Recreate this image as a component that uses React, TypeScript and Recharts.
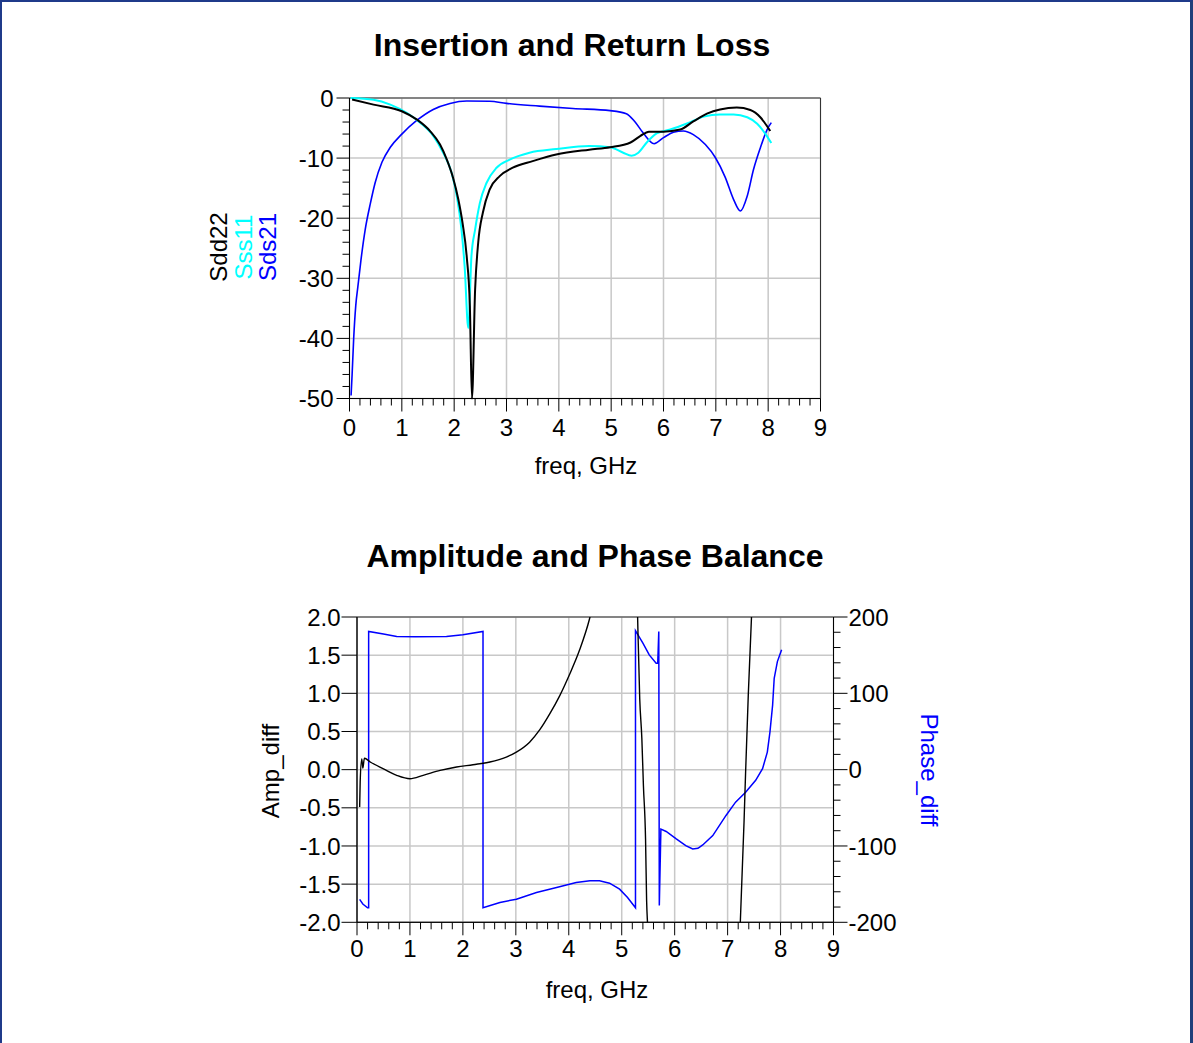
import React from "react";
import { LineChart, Line, XAxis, YAxis, CartesianGrid, ReferenceArea } from "recharts";

const FONT = '"Liberation Sans", Arial, Helvetica, sans-serif';

// Insertion / return loss, [freq GHz, dB]
const sdd22: [number, number][] = [
    [0.05, -0.25], [0.46, -1.1], [1.0, -2.2], [1.29, -3.6], [1.54, -5.5], [1.73, -7.75],
    [1.86, -10.25], [1.98, -13.3], [2.08, -16.9], [2.16, -20.8], [2.24, -26.4], [2.3, -34.6],
    [2.34, -50], [2.4, -31.9], [2.46, -24], [2.55, -19], [2.68, -15.2], [2.87, -13],
    [3.12, -11.6], [3.5, -10.5], [3.95, -9.4], [4.58, -8.6], [4.98, -8.2], [5.37, -7.4],
    [5.56, -6.3], [5.72, -5.6], [6.0, -5.6], [6.32, -5.25], [6.57, -3.9], [6.83, -2.6],
    [7.08, -1.9], [7.4, -1.6], [7.66, -2.0], [7.85, -3.2], [7.98, -4.7], [8.04, -5.5],
]

const sss11: [number, number][] = [
    [0.02, 0], [0.46, -0.3], [0.78, -1.1], [1.1, -2.5], [1.35, -4.1], [1.6, -6.3],
    [1.79, -9.1], [1.95, -12.4], [2.05, -16.3], [2.14, -21.9], [2.2, -28], [2.27, -38.3],
    [2.33, -26.3], [2.4, -21.9], [2.49, -17.5], [2.62, -14.1], [2.81, -11.6], [3.06, -10.25],
    [3.44, -9.1], [3.95, -8.5], [4.58, -8.0], [4.98, -8.2], [5.23, -9.1], [5.39, -9.6],
    [5.52, -9.1], [5.68, -7.4], [5.87, -5.9], [6.13, -5.25], [6.45, -4.25], [6.77, -3.1],
    [7.08, -2.75], [7.34, -2.75], [7.6, -3.2], [7.79, -4.3], [7.95, -6.0], [8.06, -7.5],
]

const sds21: [number, number][] = [
    [0.03, -49.5], [0.05, -46], [0.08, -40], [0.12, -34.5], [0.16, -31.4], [0.22, -26.9],
    [0.3, -21.9], [0.4, -17.5], [0.49, -14.1], [0.62, -10.7], [0.78, -8.2], [0.99, -6.1],
    [1.29, -3.7], [1.6, -1.9], [1.92, -0.9], [2.24, -0.5], [2.68, -0.55], [3.0, -0.9],
    [3.63, -1.35], [4.27, -1.75], [4.98, -2.1], [5.29, -2.6], [5.45, -3.9], [5.61, -5.8],
    [5.82, -7.6], [6.0, -6.6], [6.19, -5.7], [6.38, -5.5], [6.57, -6.1], [6.8, -7.75],
    [6.99, -9.9], [7.18, -13.2], [7.34, -16.9], [7.47, -18.8], [7.6, -16.3], [7.72, -11.9],
    [7.85, -8.3], [7.98, -5.25], [8.06, -4.1],
]

// Amplitude / phase balance, [freq GHz, value]
const ampDiff: [number, number][] = [
    [0.05, -0.49], [0.06, -0.16], [0.09, 0.14], [0.11, 0.02], [0.14, 0.15], [0.25, 0.1],
    [0.5, 0.01], [0.75, -0.075], [1.0, -0.12], [1.25, -0.075], [1.57, -0.01], [1.88, 0.035],
    [2.19, 0.065], [2.51, 0.1], [2.82, 0.165], [3.01, 0.23], [3.26, 0.36], [3.45, 0.52],
    [3.64, 0.73], [3.83, 0.97], [4.01, 1.24], [4.2, 1.56], [4.39, 1.97], [4.5, 2.3],
    [4.8, 3.2], [5.1, 3.4], [5.28, 2.6], [5.3, 2.0], [5.34, 0.93], [5.38, 0.41],
    [5.41, -0.21], [5.45, -0.91], [5.47, -1.71], [5.49, -2.05], [5.55, -3], [6.3, -4],
    [7.15, -3], [7.24, -2.0], [7.31, -0.69], [7.34, -0.03], [7.39, 0.97], [7.45, 1.98],
    [7.55, 3], [8.05, 5],
]

const phaseDiff: [number, number][] = [
    [0.05, -170], [0.11, -176], [0.2, -181], [0.22, -181], [0.22, 181], [0.5, 177.6],
    [0.75, 174.5], [1.1, 174], [1.69, 174.5], [2.0, 176.7], [2.38, 181], [2.38, -181],
    [2.7, -174], [3.01, -169.7], [3.39, -161], [3.77, -154.5], [4.14, -148], [4.4, -145.7],
    [4.58, -145.7], [4.77, -148.7], [4.96, -156.6], [5.11, -167.6], [5.26, -181], [5.26, 182],
    [5.4, 165.8], [5.52, 150.4], [5.65, 139.5], [5.68, 139.5], [5.7, 181], [5.71, -178],
    [5.74, -78], [5.84, -81], [6.03, -90.8], [6.21, -99.6], [6.34, -104], [6.44, -103],
    [6.53, -98.7], [6.72, -86.4], [6.97, -60], [7.15, -42.6], [7.34, -29.5], [7.53, -14],
    [7.66, 1.3], [7.75, 23], [7.8, 49.5], [7.85, 84.6], [7.88, 119.7], [7.94, 141.6], [8.02, 157],
]

const freqMajor = [0, 1, 2, 3, 4, 5, 6, 7, 8, 9]
const dbMajor = [-50, -40, -30, -20, -10, 0]
const ampMajor = [-2, -1.5, -1, -0.5, 0, 0.5, 1, 1.5, 2]
const phaseMajor = [-200, -100, 0, 100, 200]

// minor tick positions along each axis
const steps = (a: number, b: number, s: number) => {
    const out: number[] = []
    const n = Math.round((b - a) / s)
    for (let i = 0; i <= n; i++) out.push(+(a + i * s).toFixed(4))
    return out
}
const freqTicks = steps(0, 9, 0.2)
const dbTicks = steps(-50, 0, 2)
const phaseTicks = steps(-200, 200, 20)

const toPoints = (pairs: [number, number][]) => pairs.map(([f, v]) => ({ f, v }))
const isMajor = (v: number, majors: number[]) => majors.some((m) => Math.abs(m - v) < 1e-6)

function BottomTick(props: any) {
    const { x, y, payload, labelOffset } = props
    const major = isMajor(payload.value, freqMajor)
    return (
        <g>
            <line x1={x} y1={y} x2={x} y2={y + (major ? 13 : 7)} stroke="#000" strokeWidth={1} />
            {major && (
                <text x={x} y={y + labelOffset} dy="0.36em" textAnchor="middle" fontSize={24} fontFamily={FONT} fill="#000">
                    {payload.value}
                </text>
            )}
        </g>
    )
}

function LeftTick(props: any) {
    const { x, y, payload, majors, len, gap, fmt } = props
    const major = isMajor(payload.value, majors)
    return (
        <g>
            <line x1={x - (major ? len : 7)} y1={y} x2={x} y2={y} stroke="#000" strokeWidth={1} />
            {major && (
                <text x={x - len - gap} y={y} dy="0.36em" textAnchor="end" fontSize={24} fontFamily={FONT} fill="#000">
                    {fmt(payload.value)}
                </text>
            )}
        </g>
    )
}

function RightTick(props: any) {
    const { x, y, payload } = props
    const major = isMajor(payload.value, phaseMajor)
    return (
        <g>
            <line x1={x} y1={y} x2={x + (major ? 14 : 7)} y2={y} stroke="#000" strokeWidth={1} />
            {major && (
                <text x={x + 15} y={y} dy="0.36em" textAnchor="start" fontSize={24} fontFamily={FONT} fill="#000">
                    {payload.value}
                </text>
            )}
        </g>
    )
}

function Txt({ cx, cy, text, size = 24, bold = false, color = "#000", rotate = 0 }: any) {
    return (
        <div
            style={{
                position: "absolute",
                left: cx - 300,
                top: cy - 20,
                width: 600,
                height: 40,
                lineHeight: "40px",
                textAlign: "center",
                fontFamily: FONT,
                fontSize: size,
                fontWeight: bold ? 700 : 400,
                color,
                whiteSpace: "nowrap",
                transform: rotate ? `rotate(${rotate}deg)` : undefined,
            }}
        >
            {text}
        </div>
    )
}

export default function App() {
    return (
        <div style={{ position: "absolute", left: 0, top: 0, width: 1193, height: 1043, background: "#fff", overflow: "hidden" }}>
            <Txt cx={572} cy={45} text="Insertion and Return Loss" size={32} bold />
            <Txt cx={219} cy={247} text="Sdd22" rotate={-90} />
            <Txt cx={244} cy={247} text="Sss11" rotate={-90} color="#00ffff" />
            <Txt cx={268} cy={247} text="Sds21" rotate={-90} color="#0000ff" />
            <Txt cx={586} cy={466} text="freq, GHz" />

            <div style={{ position: "absolute", left: 0, top: 0 }}>
                <LineChart width={1193} height={480} margin={{ top: 98, right: 372.5, bottom: 31.5, left: 269.5 }}>
                    <CartesianGrid stroke="#c8c8c8" strokeWidth={1.5} verticalValues={freqMajor} horizontalValues={dbMajor} />
                    <XAxis
                        dataKey="f"
                        type="number"
                        domain={[0, 9]}
                        ticks={freqTicks}
                        interval={0}
                        height={50}
                        tickSize={0}
                        tickMargin={0}
                        tickLine={false}
                        axisLine={{ stroke: "#000" }}
                        tick={(p: any) => <BottomTick {...p} labelOffset={28.5} />}
                    />
                    <YAxis
                        type="number"
                        domain={[-50, 0]}
                        ticks={dbTicks}
                        interval={0}
                        width={80}
                        tickSize={0}
                        tickMargin={0}
                        tickLine={false}
                        axisLine={{ stroke: "#000" }}
                        tick={(p: any) => <LeftTick {...p} majors={dbMajor} len={13} gap={3} fmt={(v: number) => String(v)} />}
                    />
                    <ReferenceArea x1={0} x2={9} y1={-50} y2={0} fill="none" stroke="#333" strokeWidth={1} ifOverflow="visible" />
                    <Line data={toPoints(sds21)} dataKey="v" type="monotone" stroke="#0000ff" strokeWidth={1.6} dot={false} isAnimationActive={false} />
                    <Line data={toPoints(sss11)} dataKey="v" type="monotone" stroke="#00ffff" strokeWidth={2} dot={false} isAnimationActive={false} />
                    <Line data={toPoints(sdd22)} dataKey="v" type="monotone" stroke="#000000" strokeWidth={2} dot={false} isAnimationActive={false} />
                </LineChart>
            </div>

            <Txt cx={595} cy={556} text="Amplitude and Phase Balance" size={32} bold />
            <Txt cx={271} cy={771} text="Amp_diff" rotate={-90} />
            <Txt cx={929} cy={770} text="Phase_diff" rotate={90} color="#0000ff" />
            <Txt cx={597} cy={990} text="freq, GHz" />

            <div style={{ position: "absolute", left: 0, top: 520 }}>
                <LineChart width={1193} height={480} margin={{ top: 97, right: 279.5, bottom: 27.7, left: 277 }}>
                    <CartesianGrid yAxisId="amp" stroke="#c8c8c8" strokeWidth={1.5} verticalValues={freqMajor} horizontalValues={ampMajor} />
                    <XAxis
                        dataKey="f"
                        type="number"
                        domain={[0, 9]}
                        ticks={freqTicks}
                        interval={0}
                        height={50}
                        tickSize={0}
                        tickMargin={0}
                        tickLine={false}
                        axisLine={{ stroke: "#000" }}
                        tick={(p: any) => <BottomTick {...p} labelOffset={26} />}
                    />
                    <YAxis
                        yAxisId="amp"
                        type="number"
                        domain={[-2, 2]}
                        allowDataOverflow
                        ticks={ampMajor}
                        interval={0}
                        width={80}
                        tickSize={0}
                        tickMargin={0}
                        tickLine={false}
                        axisLine={{ stroke: "#000" }}
                        tick={(p: any) => <LeftTick {...p} majors={ampMajor} len={15.5} gap={1} fmt={(v: number) => v.toFixed(1)} />}
                    />
                    <YAxis
                        yAxisId="phase"
                        orientation="right"
                        type="number"
                        domain={[-200, 200]}
                        allowDataOverflow
                        ticks={phaseTicks}
                        interval={0}
                        width={80}
                        tickSize={0}
                        tickMargin={0}
                        tickLine={false}
                        axisLine={{ stroke: "#000" }}
                        tick={(p: any) => <RightTick {...p} />}
                    />
                    <ReferenceArea yAxisId="amp" x1={0} x2={9} y1={-2} y2={2} fill="none" stroke="#333" strokeWidth={1} ifOverflow="visible" />
                    <Line yAxisId="phase" data={toPoints(phaseDiff)} dataKey="v" type="linear" stroke="#0000ff" strokeWidth={1.5} dot={false} isAnimationActive={false} />
                    <Line yAxisId="amp" data={toPoints(ampDiff)} dataKey="v" type="monotone" stroke="#000000" strokeWidth={1.4} dot={false} isAnimationActive={false} />
                </LineChart>
            </div>

            <div
                style={{
                    position: "absolute",
                    left: 0,
                    top: 0,
                    width: 1193,
                    height: 1043,
                    boxSizing: "border-box",
                    borderTop: "2px solid #1f3a8a",
                    borderLeft: "2px solid #1f3a8a",
                    borderRight: "3px solid #1f3f7a",
                    pointerEvents: "none",
                }}
            />
        </div>
    )
}
